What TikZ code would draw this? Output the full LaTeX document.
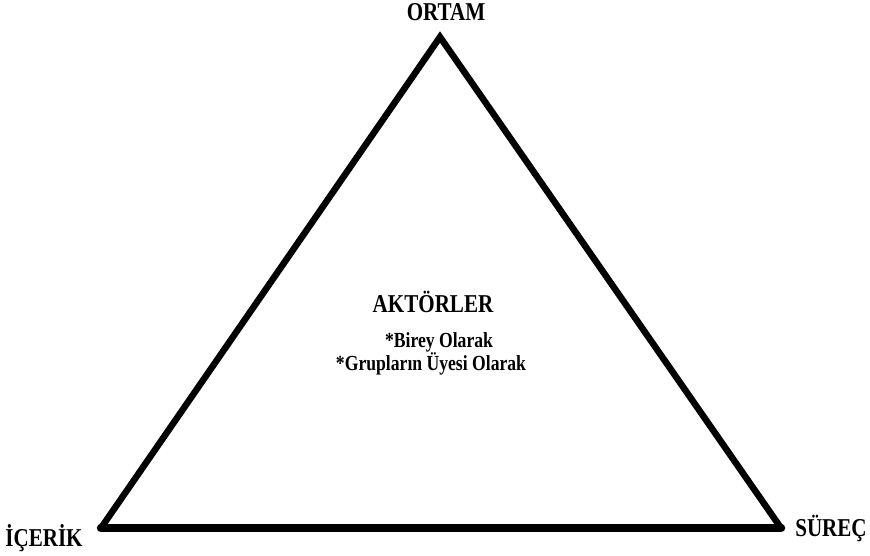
\documentclass[tikz,border=0pt]{standalone}
\usepackage{fontspec}
\setmainfont{Liberation Serif}[FakeStretch=0.82]

\begin{document}
\begin{tikzpicture}[x=1pt,y=-1pt,
  every node/.style={inner sep=0pt,font=\bfseries},
  corner/.style={anchor=base,font=\fontsize{25.7}{26}\selectfont\bfseries},
  sub/.style={anchor=base,font=\fontsize{21.5}{22}\selectfont\bfseries},
  edge/.style={line width=6.5pt,line join=miter}]
  \useasboundingbox (0,0) rectangle (870,555);
  \coordinate (v1) at (440,37);
  \coordinate (v2) at (101,528);
  \coordinate (v3) at (781,528);
  \draw[edge] (v2) -- (v1) -- (v3);
  \draw[edge,line width=8.5pt,line cap=round] (v2) -- (v3);
  \node[corner] (ortam) at (446,20) {ORTAM};
  \node[corner] (icerik) at (44,546) {İÇERİK};
  \node[corner] (surec) at (831,536) {SÜREÇ};
  \node[corner] (aktorler) at (433,312) {AKTÖRLER};
  \node[sub] (birey) at (439,347) {*Birey Olarak};
  \node[sub] (grup) at (431,370) {*Grupların Üyesi Olarak};
\end{tikzpicture}
\end{document}
